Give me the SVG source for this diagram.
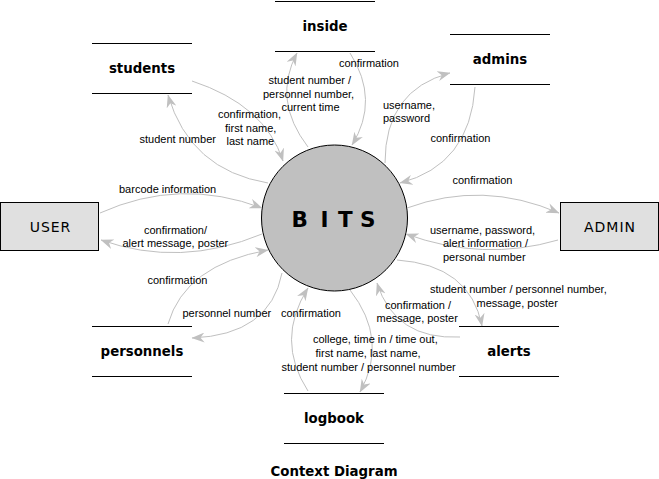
<svg xmlns="http://www.w3.org/2000/svg" width="659" height="479" viewBox="0 0 659 479">
<style>
.store{stroke:#000;stroke-width:1;fill:none}
.slabel{font-family:"DejaVu Sans",Verdana,sans-serif;font-weight:bold;font-size:13.33px;fill:#000;text-anchor:middle}
.ent{fill:#e0e0e0;stroke:#000;stroke-width:1}
.elabel{font-family:"DejaVu Sans",Verdana,sans-serif;font-size:14px;letter-spacing:1px;fill:#000;text-anchor:middle}
.flow{fill:none;stroke:#c0c0c0;stroke-width:1;marker-end:url(#ah)}
.fl{font-family:"Liberation Sans",Arial,sans-serif;font-size:11px;fill:#000}
</style>
<defs>
<marker id="ah" markerUnits="userSpaceOnUse" markerWidth="13" markerHeight="10" viewBox="0 0 13 10" refX="12.5" refY="5" orient="auto">
<path d="M0,0 L13,5 L0,10 L4,5 z" fill="#c0c0c0"/>
</marker>
</defs>
<rect width="659" height="479" fill="#fff"/>

<g id="bits">
<circle cx="334.5" cy="218" r="73" fill="#c0c0c0" stroke="#000" stroke-width="1"/>
<text x="291.5 320.5 338 360" y="226.5" font-family="'DejaVu Sans',Verdana,sans-serif" font-weight="bold" font-size="21.5px" fill="#000">BITS</text>
</g>

<g id="user">
<rect class="ent" x="0.5" y="202.5" width="98" height="48"/>
<text class="elabel" x="50.5" y="232">USER</text>
</g>
<g id="admin">
<rect class="ent" x="560.5" y="202.5" width="98" height="48"/>
<text class="elabel" x="610" y="232">ADMIN</text>
</g>

<g id="inside">
<path class="store" d="M275,1.5H375M275,51.5H375"/>
<text class="slabel" x="325" y="30.5">inside</text>
</g>
<g id="students">
<path class="store" d="M92,43.5H192M92,93.5H192"/>
<text class="slabel" x="142" y="73">students</text>
</g>
<g id="admins">
<path class="store" d="M450,34.5H550M450,84.5H550"/>
<text class="slabel" x="500" y="64">admins</text>
</g>
<g id="personnels">
<path class="store" d="M92,326.5H192M92,376.5H192"/>
<text class="slabel" x="142" y="356">personnels</text>
</g>
<g id="alerts">
<path class="store" d="M459,326.5H559M459,376.5H559"/>
<text class="slabel" x="509" y="356">alerts</text>
</g>
<g id="logbook">
<path class="store" d="M284,393.5H384M284,443.5H384"/>
<text class="slabel" x="334" y="423">logbook</text>
</g>

<g id="connectors">
<g id="c-students-bits">
<path class="flow" d="M192,81 Q265,105 283,161"/>
<text class="fl"><tspan x="218" y="118">confirmation,</tspan><tspan x="225" y="131.5">first name,</tspan><tspan x="226.5" y="145">last name</tspan></text>
</g>
<g id="c-bits-students">
<path class="flow" d="M268,183 Q190,170 168,95"/>
<text class="fl" x="139.5" y="142.5">student number</text>
</g>
<g id="c-bits-inside">
<path class="flow" d="M308,147 Q272,100 297,53"/>
<text class="fl"><tspan x="268.5" y="84">student number /</tspan><tspan x="263" y="97.5">personnel number,</tspan><tspan x="281.5" y="111">current time</tspan></text>
</g>
<g id="c-inside-bits">
<path class="flow" d="M350,53 Q380,100 352,145"/>
<text class="fl" x="339" y="67">confirmation</text>
</g>
<g id="c-bits-admins">
<path class="flow" d="M385,163 Q385,90 450,73"/>
<text class="fl"><tspan x="383" y="108.5">username,</tspan><tspan x="383" y="122">password</tspan></text>
</g>
<g id="c-admins-bits">
<path class="flow" d="M475,87 Q470,165 400,183"/>
<text class="fl" x="430.5" y="142">confirmation</text>
</g>
<g id="c-bits-admin">
<path class="flow" d="M407,208 Q483,180 559,213"/>
<text class="fl" x="452.5" y="183.5">confirmation</text>
</g>
<g id="c-admin-bits">
<path class="flow" d="M558,240 Q483,262 406,234"/>
<text class="fl"><tspan x="430" y="234">username, password,</tspan><tspan x="443" y="247">alert information /</tspan><tspan x="443" y="260.5">personal number</tspan></text>
</g>
<g id="c-user-bits">
<path class="flow" d="M100,213 Q180,177 262,208"/>
<text class="fl" x="119" y="193">barcode information</text>
</g>
<g id="c-bits-user">
<path class="flow" d="M262,234 Q180,268 101,240"/>
<text class="fl"><tspan x="144" y="234">confirmation/</tspan><tspan x="122.5" y="247">alert message, poster</tspan></text>
</g>
<g id="c-personnels-bits">
<path class="flow" d="M168,324 Q185,265 268,250"/>
<text class="fl" x="147.5" y="283.5">confirmation</text>
</g>
<g id="c-bits-personnels">
<path class="flow" d="M282,273 Q270,335 192,338"/>
<text class="fl" x="182.5" y="316.5">personnel number</text>
</g>
<g id="c-logbook-bits">
<path class="flow" d="M308,391 Q275,340 308,288"/>
<text class="fl" x="281" y="316.5">confirmation</text>
</g>
<g id="c-bits-logbook">
<path class="flow" d="M350,290 Q389,340 360,392"/>
<text class="fl"><tspan x="313" y="343">college, time in / time out,</tspan><tspan x="315.5" y="356.5">first name, last name,</tspan><tspan x="281.5" y="370.5">student number / personnel number</tspan></text>
</g>
<g id="c-alerts-bits">
<path class="flow" d="M460,337 Q395,340 377,283"/>
<text class="fl"><tspan x="385" y="308.5">confirmation /</tspan><tspan x="376.5" y="321.5">message, poster</tspan></text>
</g>
<g id="c-bits-alerts">
<path class="flow" d="M397,260 Q470,265 482,326"/>
<text class="fl"><tspan x="430" y="293">student number / personnel number,</tspan><tspan x="476.5" y="306.5">message, poster</tspan></text>
</g>
</g>

<text x="334" y="475.5" font-family="'DejaVu Sans',Verdana,sans-serif" font-weight="bold" font-size="13.33px" fill="#000" text-anchor="middle">Context Diagram</text>
</svg>
